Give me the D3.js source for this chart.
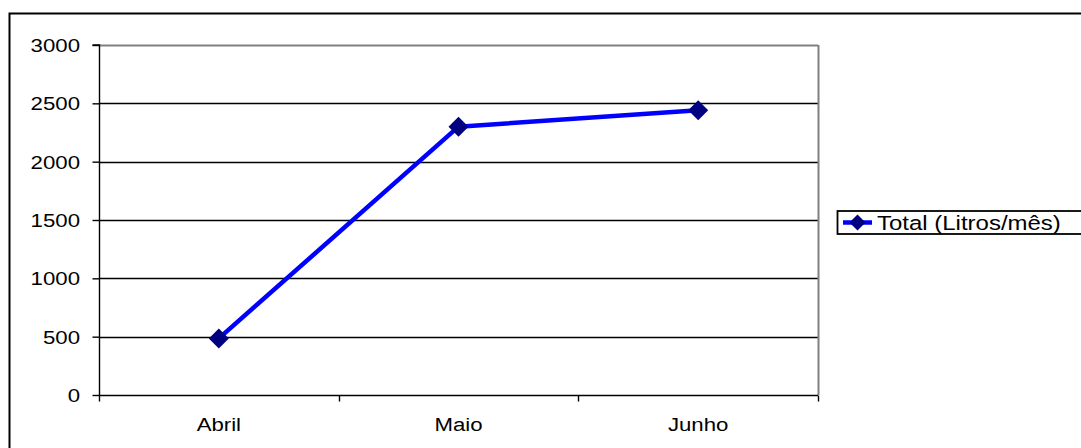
<!DOCTYPE html>
<html>
<head>
<meta charset="utf-8">
<script src="https://cdn.jsdelivr.net/npm/d3@7/dist/d3.min.js"></script>
<style>
  html, body { margin: 0; padding: 0; background: #fff; }
  svg { display: block; font-family: "Liberation Sans", Arial, sans-serif; }
</style>
</head>
<body>
<svg id="chart" width="1081" height="448"></svg>
<script>
// Monthly totals (litres per month)
const categories = ["Abril", "Maio", "Junho"];
const totals = [485, 2300, 2440];
const yTicks = [0, 500, 1000, 1500, 2000, 2500, 3000];
const seriesName = "Total (Litros/mês)";

const svg = d3.select("#chart");
const W = 1081, H = 448;
const plot = { left: 99, right: 818, top: 45, bottom: 395 };
const FONT = 19, STRETCH = 1.17;

// Outer chart frame (extends past the right and bottom edges)
svg.append("rect")
  .attr("x", 9.5).attr("y", 13.5)
  .attr("width", W + 20).attr("height", H + 20)
  .attr("fill", "#fff").attr("stroke", "#000").attr("stroke-width", 2);

const x = d3.scaleBand().domain(categories).range([plot.left, plot.right]);
const y = d3.scaleLinear().domain([0, 3000]).range([plot.bottom, plot.top]);

// Horizontal gridlines
svg.append("g").selectAll("line")
  .data(yTicks.filter(d => d > 0))
  .join("line")
  .attr("x1", plot.left).attr("x2", plot.right)
  .attr("y1", d => Math.round(y(d)) + 0.5).attr("y2", d => Math.round(y(d)) + 0.5)
  .attr("stroke", d => d === 3000 ? "#808080" : "#000")
  .attr("stroke-width", d => d === 3000 ? 2 : 1.4);

// Right border of the plot area
svg.append("line")
  .attr("x1", plot.right + 0.5).attr("x2", plot.right + 0.5)
  .attr("y1", plot.top).attr("y2", plot.bottom)
  .attr("stroke", "#808080").attr("stroke-width", 2);

// Y axis line and ticks
const gy = svg.append("g").attr("transform", `translate(${plot.left + 0.5},0)`);
const yAxis = d3.axisLeft(y).tickValues(yTicks).tickSize(7).tickFormat("");
gy.call(yAxis);
gy.select(".domain").attr("stroke", "#000").attr("stroke-width", 1.4)
  .attr("d", `M-7,${plot.top}H0V${plot.bottom}`);
gy.selectAll(".tick line").attr("stroke", "#000").attr("stroke-width", 1.4);
// Y tick labels
svg.append("g").selectAll("text")
  .data(yTicks)
  .join("text")
  .attr("transform", d => `translate(80,${y(d)}) scale(${STRETCH},1)`)
  .attr("dy", "0.36em")
  .attr("text-anchor", "end")
  .attr("font-size", FONT)
  .attr("fill", "#000")
  .text(d3.format("d"));

// X axis with ticks at band boundaries
const gx = svg.append("g")
  .attr("transform", `translate(0,${plot.bottom + 0.5})`);
gx.append("line")
  .attr("x1", plot.left).attr("x2", plot.right)
  .attr("stroke", "#000").attr("stroke-width", 1.4);
const bounds = categories.map(c => x(c)).concat([x(categories[categories.length - 1]) + x.bandwidth()]);
gx.selectAll("line.tick").data(bounds).join("line")
  .attr("class", "tick")
  .attr("x1", d => Math.round(d) + 0.5).attr("x2", d => Math.round(d) + 0.5)
  .attr("y1", 0).attr("y2", 6)
  .attr("stroke", "#000").attr("stroke-width", 1.4);
gx.selectAll("text").data(categories).join("text")
  .attr("transform", d => `translate(${x(d) + x.bandwidth() / 2},35) scale(${STRETCH},1)`)
  .attr("text-anchor", "middle")
  .attr("font-size", FONT)
  .attr("fill", "#000")
  .text(d => d);

// Series line
const pts = categories.map((c, i) => [x(c) + x.bandwidth() / 2, y(totals[i])]);
svg.append("path")
  .attr("d", d3.line()(pts))
  .attr("fill", "none")
  .attr("stroke", "#0000FF")
  .attr("stroke-width", 4.5)
  .attr("stroke-linejoin", "round");

// Diamond markers
svg.append("g").selectAll("path")
  .data(pts)
  .join("path")
  .attr("transform", d => `translate(${d[0]},${d[1]}) rotate(45)`)
  .attr("d", d3.symbol().type(d3.symbolSquare).size(200))
  .attr("fill", "#000080");

// Legend
const lg = svg.append("g");
lg.append("rect")
  .attr("x", 837.5).attr("y", 211)
  .attr("width", 300).attr("height", 23)
  .attr("fill", "#fff").attr("stroke", "#000").attr("stroke-width", 1.8);
lg.append("line")
  .attr("x1", 843).attr("x2", 872)
  .attr("y1", 222.5).attr("y2", 222.5)
  .attr("stroke", "#0000FF").attr("stroke-width", 4.5);
lg.append("path")
  .attr("transform", "translate(857.5,222.5) rotate(45)")
  .attr("d", d3.symbol().type(d3.symbolSquare).size(130))
  .attr("fill", "#000080");
lg.append("text")
  .attr("transform", `translate(877,229.5) scale(${STRETCH},1)`)
  .attr("font-size", FONT + 1.5)
  .attr("fill", "#000")
  .text(seriesName);
</script>
</body>
</html>
